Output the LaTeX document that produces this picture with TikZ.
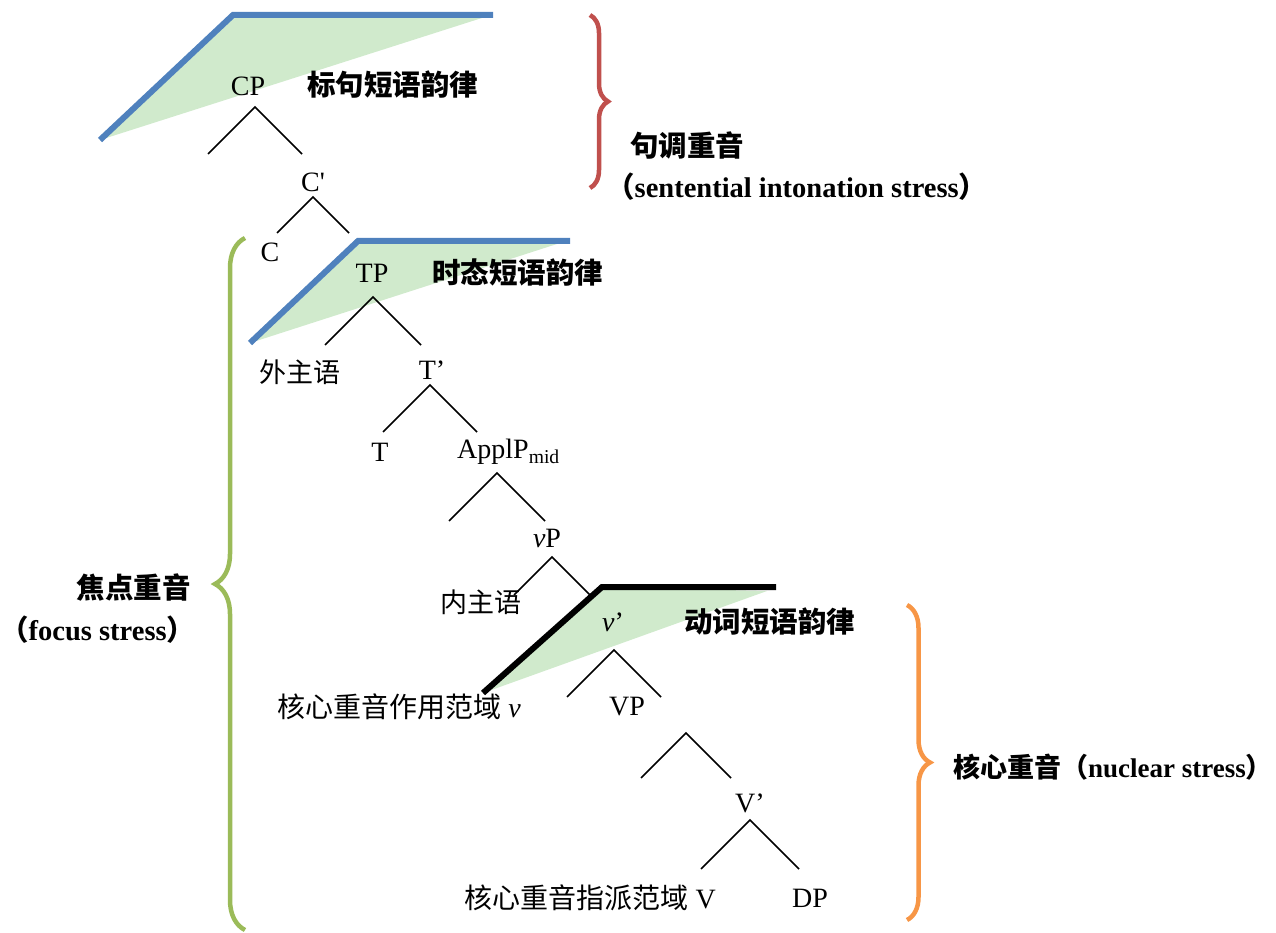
\documentclass[tikz,border=0pt]{standalone}
\usepackage{fontspec}
\setmainfont{Liberation Serif}
\newfontfamily\cjk{Noto Sans CJK SC}
\usetikzlibrary{decorations.pathreplacing}
\definecolor{domblue}{HTML}{4F81BD}
\definecolor{domfill}{HTML}{D0EACC}
\definecolor{bracered}{HTML}{C0504D}
\definecolor{bracegreen}{HTML}{9BBB59}
\definecolor{braceorange}{HTML}{F79646}

\begin{document}
\begin{tikzpicture}[x=1pt, y=-1pt,
    lbl/.style={inner sep=0, font=\fontsize{28}{32}\selectfont},
    zh/.style={inner sep=0, font=\fontsize{27}{32}\selectfont\cjk},
    zhb/.style={inner sep=0, font=\fontsize{28.5}{32}\selectfont\cjk\bfseries},
    enb/.style={inner sep=0, font=\fontsize{28.5}{32}\selectfont\bfseries},
    branch/.style={line width=1.5pt},
    pdomain/.style={line width=6pt, domblue},
    curly/.style={decorate, decoration={brace, amplitude=#1}, line width=4.5pt}
  ]
  \useasboundingbox (0,0) rectangle (1276,933);

  % prosodic domains
  \fill[domfill] (100,140) -- (233,15) -- (485,17) -- cycle;
  \fill[domfill] (250,343) -- (358,241) -- (560,243) -- cycle;
  \fill[domfill] (483,693) -- (602,587) -- (767,591) -- cycle;
  \draw[pdomain] (100,140) -- (233,15) -- (493,15);
  \draw[pdomain] (250,343) -- (358,241) -- (570,241);
  \draw[pdomain, black] (483,693) -- (602,587) -- (776,587);

  % tree labels
  \node[lbl] (CP) at (248,86) {CP};
  \node[lbl] (Cbar) at (313,182) {C\textquotesingle};
  \node[lbl] (C) at (270,252) {C};
  \node[lbl] (TP) at (372,273) {TP};
  \node[zh] (spec) at (300,372) {外主语};
  \node[lbl] (Tbar) at (432,370) {T’};
  \node[lbl] (T) at (380,452) {T};
  \node[lbl, anchor=west] (Appl) at (457,452) {ApplP\textsubscript{mid}};
  \node[lbl] (vP) at (547,538) {\textit{v}P};
  \node[zh] (inner) at (481,602) {内主语};
  \node[lbl] (vbar) at (613,622) {\textit{v}’};
  \node[lbl, anchor=east] (vhead) at (521,707) {{\cjk 核心重音作用范域} \textit{v}};
  \node[lbl] (VP) at (627,707) {VP};
  \node[lbl] (Vbar) at (750,803) {V’};
  \node[lbl, anchor=east] (Vhead) at (716,898) {{\cjk 核心重音指派范域} V};
  \node[lbl] (DP) at (810,898) {DP};

  % branches: apex / spread
  \foreach \x/\y/\h in {255/107/47, 313/197/36, 373/297/48, 430/385/47,
      497/473/48, 552/557/38, 614/650/47, 686/733/45, 750/820/49}
    \draw[branch] (\x-\h,\y+\h) -- (\x,\y) -- (\x+\h,\y+\h);

  % domain names
  \node[zhb, anchor=west] (cpdom) at (307,85) {标句短语韵律};
  \node[zhb, anchor=west] (tpdom) at (432,273) {时态短语韵律};
  \node[zhb, anchor=west] (vpdom) at (684,622) {动词短语韵律};

  % stress braces
  \draw[curly=18pt, bracered] (590,15) -- (590,188);
  \draw[curly=30pt, bracegreen] (245,930) -- (245,238);
  \draw[curly=23pt, braceorange] (907,605) -- (907,920);

  \node[zhb, anchor=west] (sent) at (630,146) {句调重音};
  \node[enb, anchor=west] (sent-en) at (606,187) {{\cjk\bfseries （}sentential intonation stress{\cjk\bfseries ）}};
  \node[zhb, anchor=east] (focus) at (191,588) {焦点重音};
  \node[enb, anchor=west] (focus-en) at (0,630) {{\cjk\bfseries （}focus stress{\cjk\bfseries ）}};
  \node[enb, anchor=east, font=\fontsize{27}{32}\selectfont\bfseries] (nuc) at (1273,767) {{\cjk\bfseries 核心重音（}nuclear stress{\cjk\bfseries ）}};
\end{tikzpicture}
\end{document}
